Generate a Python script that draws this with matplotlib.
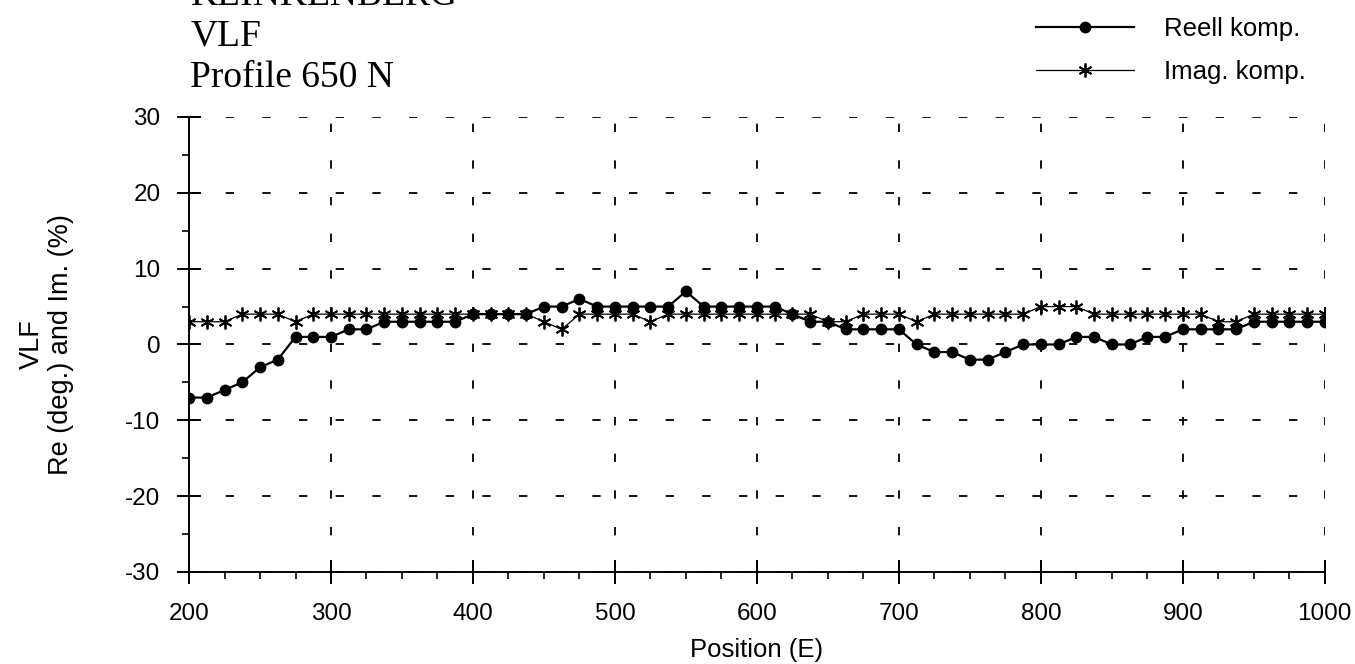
import matplotlib
matplotlib.use('Agg')
import matplotlib.pyplot as plt
from matplotlib.ticker import MultipleLocator

plt.rcParams['font.family'] = ['Liberation Sans', 'DejaVu Sans']
plt.rcParams['lines.scale_dashes'] = False
plt.rcParams['axes.unicode_minus'] = False

# Station positions along the profile (E)
position = [200, 212.5, 225, 237.5, 250, 262.5, 275, 287.5, 300, 312.5, 325, 337.5, 350, 362.5, 375, 387.5,
            400, 412.5, 425, 437.5, 450, 462.5, 475, 487.5, 500, 512.5, 525, 537.5, 550, 562.5, 575, 587.5,
            600, 612.5, 625, 637.5, 650, 662.5, 675, 687.5, 700, 712.5, 725, 737.5, 750, 762.5, 775,
            787.5, 800, 812.5, 825, 837.5, 850, 862.5, 875, 887.5, 900, 912.5, 925, 937.5, 950, 962.5, 975, 987.5, 1000]

# Real component (deg.)
reell = [-7, -7, -6, -5, -3, -2, 1, 1, 1, 2, 2, 3, 3, 3, 3, 3,
         4, 4, 4, 4, 5, 5, 6, 5, 5, 5, 5, 5, 7, 5, 5, 5,
         5, 5, 4, 3, 3, 2, 2, 2, 2, 0, -1, -1, -2, -2, -1,
         0, 0, 0, 1, 1, 0, 0, 1, 1, 2, 2, 2, 2, 3, 3, 3, 3, 3]

# Imaginary component (%)
imag = [3, 3, 3, 4, 4, 4, 3, 4, 4, 4, 4, 4, 4, 4, 4, 4,
        4, 4, 4, 4, 3, 2, 4, 4, 4, 4, 3, 4, 4, 4, 4, 4,
        4, 4, 4, 4, 3, 3, 4, 4, 4, 3, 4, 4, 4, 4, 4,
        4, 5, 5, 5, 4, 4, 4, 4, 4, 4, 4, 3, 3, 4, 4, 4, 4, 4]

title_lines = ['KLINKENBERG', 'VLF', 'Profile 650 N']

fig = plt.figure(figsize=(13.55, 6.64), dpi=100)
ax = fig.add_axes([0.1395, 0.1386, 0.8382, 0.6852])

ax.plot(position, imag, color='black', lw=0.9, marker=(6, 2, 0), markersize=10,
        markeredgewidth=1.3, label='Imag. komp.', zorder=3)
ax.plot(position, reell, color='black', lw=1.6, marker='o', markersize=7.5,
        label='Reell komp.', zorder=4)

ax.set_xlim(200, 1000)
ax.set_ylim(-30, 30)
ax.xaxis.set_major_locator(MultipleLocator(100))
ax.xaxis.set_minor_locator(MultipleLocator(25))
ax.yaxis.set_major_locator(MultipleLocator(10))
ax.yaxis.set_minor_locator(MultipleLocator(5))

for s in ['top', 'right']:
    ax.spines[s].set_visible(False)
for s in ['left', 'bottom']:
    ax.spines[s].set_linewidth(1.4)

ax.tick_params(which='major', direction='inout', length=17, width=1.4, labelsize=17.5, pad=14)
ax.tick_params(which='minor', direction='out', length=5, width=1.2)
ax.tick_params(axis='y', which='major', pad=12)

ax.grid(True, which='major', color='black', lw=1.3, linestyle=(0, (6, 20.4)))

ax.set_xlabel('Position (E)', fontsize=18.5, labelpad=9)
ax.set_ylabel('VLF\nRe (deg.) and Im. (%)', fontsize=19.5, labelpad=37, linespacing=1.15)

# Title block in serif, top line partly cut off
for i, t in enumerate(title_lines):
    fig.text(0.1405, 1 - (5 + 41 * i) / 664, t, fontsize=27, va='baseline', ha='left',
             family=['Liberation Serif', 'DejaVu Serif'])

h, l = ax.get_legend_handles_labels()
fig.legend(h[::-1], l[::-1], loc='upper left', bbox_to_anchor=(0.757, 0.99), frameon=False,
           fontsize=18.5, handlelength=3.8, handletextpad=1.2, labelspacing=0.75, borderaxespad=0)

fig.savefig('out.png', dpi=100)
